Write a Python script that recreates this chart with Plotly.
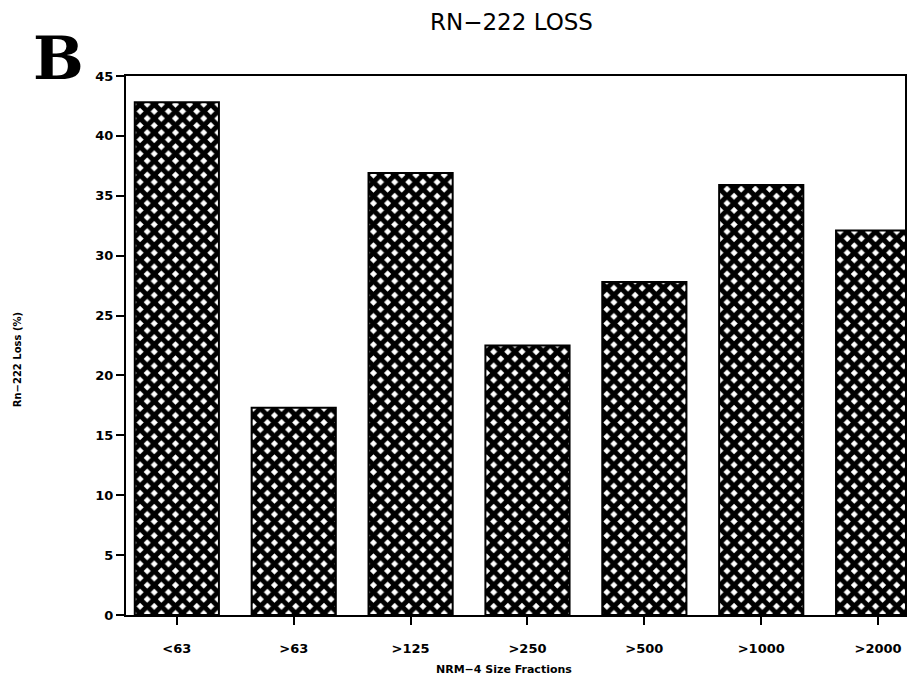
import plotly.graph_objects as go

categories = ["<63", ">63", ">125", ">250", ">500", ">1000", ">2000"]
rn222_loss = [42.8, 17.3, 36.9, 22.5, 27.8, 35.9, 32.1]
y_ticks = [0, 5, 10, 15, 20, 25, 30, 35, 40, 45]

# page body has an 8px margin; work in reference pixel coords and offset
OFF = 8
W, H = 900, 671
L = 126 - OFF
T = 76 - OFF
R = 1
B = H - (615 - OFF)
pw = W - L - R
ph = H - T - B

def px(x):
    return (x - OFF - L) / pw

def py(y):
    return (H - B - (y - OFF)) / ph

fig = go.Figure()
fig.add_trace(go.Bar(
    x=list(range(len(categories))),
    y=rn222_loss,
    marker=dict(
        color="black",
        line=dict(color="black", width=2),
        pattern=dict(shape="x", fgcolor="black", bgcolor="white", fgopacity=1,
                     size=10, solidity=0.75),
    ),
    showlegend=False,
))

tick_font = dict(family="DejaVu Sans", size=13, color="black", weight="bold")

fig.update_layout(
    width=W, height=H,
    margin=dict(l=L, r=R, t=T, b=B),
    paper_bgcolor="white", plot_bgcolor="white",
    bargap=0.28,
    xaxis=dict(
        range=[-0.435, 6.23],
        tickmode="array",
        tickvals=list(range(len(categories))),
        ticktext=categories,
        ticks="outside", ticklen=8, tickwidth=2, tickcolor="black",
        ticklabelstandoff=12,
        showline=True, linecolor="black", linewidth=2, mirror=True,
        showgrid=False, zeroline=False,
        tickfont=tick_font,
    ),
    yaxis=dict(
        range=[0, 45],
        tickmode="array",
        tickvals=y_ticks,
        ticks="outside", ticklen=8, tickwidth=2, tickcolor="black",
        showline=True, linecolor="black", linewidth=2, mirror=True,
        showgrid=False, zeroline=False,
        tickfont=tick_font,
    ),
    annotations=[
        dict(text="RN\u2212222 LOSS", xref="paper", yref="paper",
             x=px(512), y=py(22), xanchor="center", yanchor="middle",
             showarrow=False, font=dict(family="DejaVu Sans", size=23, color="black")),
        dict(text="<b>B</b>", xref="paper", yref="paper",
             x=px(58), y=py(58), xanchor="center", yanchor="middle",
             showarrow=False, font=dict(family="DejaVu Serif", size=60, color="black")),
        dict(text="Rn\u2212222 Loss (%)", xref="paper", yref="paper",
             x=px(17), y=py(360), xanchor="center", yanchor="middle", textangle=-90,
             showarrow=False, font=dict(family="DejaVu Sans", size=10, color="black", weight="bold")),
        dict(text="NRM\u22124 Size Fractions", xref="paper", yref="paper",
             x=px(505), y=py(670), xanchor="center", yanchor="middle",
             showarrow=False, font=dict(family="DejaVu Sans", size=11, color="black", weight="bold")),
    ],
)

fig.write_html("out.html")
